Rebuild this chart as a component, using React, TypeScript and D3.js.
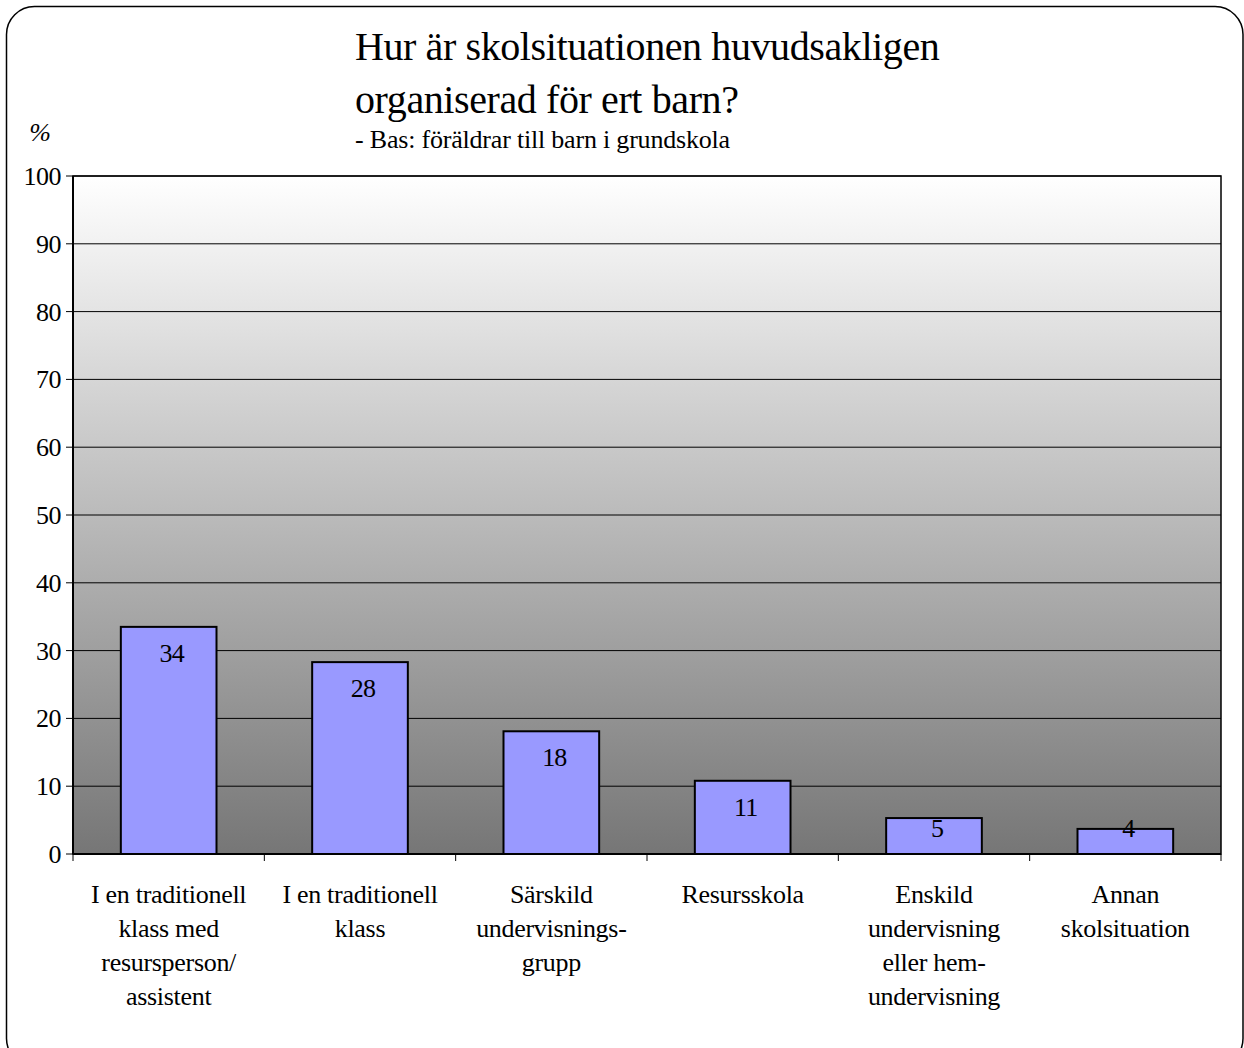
import React from "react";
import * as d3 from "d3";

const titleLines = ["Hur är skolsituationen huvudsakligen", "organiserad för ert barn?"];
const subtitle = "- Bas: föräldrar till barn i grundskola";
const categories = [
  ["I en traditionell", "klass med", "resursperson/", "assistent"],
  ["I en traditionell", "klass"],
  ["Särskild", "undervisnings-", "grupp"],
  ["Resursskola"],
  ["Enskild", "undervisning", "eller hem-", "undervisning"],
  ["Annan", "skolsituation"],
];
const values = [33.5, 28.3, 18.1, 10.8, 5.3, 3.7];
const labels = ["34", "28", "18", "11", "5", "4"];
const yTicks = [0, 10, 20, 30, 40, 50, 60, 70, 80, 90, 100];

export default function App() {
  const W = 1244, H = 1048;
  const left = 73, right = 1221, top = 176, bottom = 854;
  const x = d3.scaleBand<number>().domain(d3.range(values.length)).range([left, right]).paddingInner(0.5).paddingOuter(0.25);
  const y = d3.scaleLinear().domain([0, 100]).range([bottom, top]);
  const step = (right - left) / values.length;
  const ff = { fontFamily: "'Liberation Serif', 'Times New Roman', serif" };
  return (
    <svg width={W} height={H} style={{ position: "absolute", left: 0, top: 0, ...ff }}>
      <defs>
        <linearGradient id="bg" x1="0" y1="0" x2="0" y2="1">
          <stop offset="0" stopColor="#ffffff" />
          <stop offset="1" stopColor="#767676" />
        </linearGradient>
      </defs>
      <rect x={0} y={0} width={W} height={H} fill="#fff" />
      <rect x={6.5} y={6.5} width={1236.5} height={1060} rx={28} ry={28} fill="none" stroke="#000" strokeWidth={1.5} />
      {titleLines.map((t, i) => (
        <text key={i} x={355} y={60 + i * 53} fontSize={40} letterSpacing={-0.4} fill="#000" style={ff}>{t}</text>
      ))}
      <text x={355} y={148} fontSize={26} letterSpacing={-0.2} fill="#000" style={ff}>{subtitle}</text>
      <text x={40} y={141} fontSize={26} textAnchor="middle" fontStyle="italic" fill="#000" style={ff}>%</text>
      <rect x={left} y={top} width={right - left} height={bottom - top} fill="url(#bg)" />
      {yTicks.map((t) => (
        <g key={t}>
          <line x1={left} x2={right} y1={y(t)} y2={y(t)} stroke="#000" strokeWidth={1} />
          <line x1={left - 7} x2={left} y1={y(t)} y2={y(t)} stroke="#000" strokeWidth={1} />
          <text x={61} y={y(t) + 9} fontSize={26} letterSpacing={-0.5} textAnchor="end" fill="#000" style={ff}>{t}</text>
        </g>
      ))}
      <rect x={left} y={top} width={right - left} height={bottom - top} fill="none" stroke="#000" strokeWidth={1.5} />
      <line x1={left} x2={left} y1={top} y2={bottom} stroke="#000" strokeWidth={2} />
      <line x1={left} x2={right} y1={bottom} y2={bottom} stroke="#000" strokeWidth={2} />
      {d3.range(values.length + 1).map((i) => (
        <line key={i} x1={left + i * step} x2={left + i * step} y1={bottom} y2={bottom + 7} stroke="#000" strokeWidth={1} />
      ))}
      {values.map((v, i) => {
        const bx = x(i)!;
        const by = y(v);
        const ly = Math.min(by + 26, bottom - 26);
        return (
          <g key={i}>
            <rect x={bx} y={by} width={x.bandwidth()} height={bottom - by} fill="#9999ff" stroke="#000" strokeWidth={2} />
            <text x={bx + x.bandwidth() / 2 + 3} y={ly + 9} fontSize={26} letterSpacing={-0.8} textAnchor="middle" fill="#000" style={ff}>{labels[i]}</text>
          </g>
        );
      })}
      {categories.map((lines, i) => (
        <text key={i} x={x(i)! + x.bandwidth() / 2} y={903} fontSize={26} letterSpacing={-0.3} textAnchor="middle" fill="#000" style={ff}>
          {lines.map((l, j) => (
            <tspan key={j} x={x(i)! + x.bandwidth() / 2} dy={j === 0 ? 0 : 34}>{l}</tspan>
          ))}
        </text>
      ))}
    </svg>
  );
}
